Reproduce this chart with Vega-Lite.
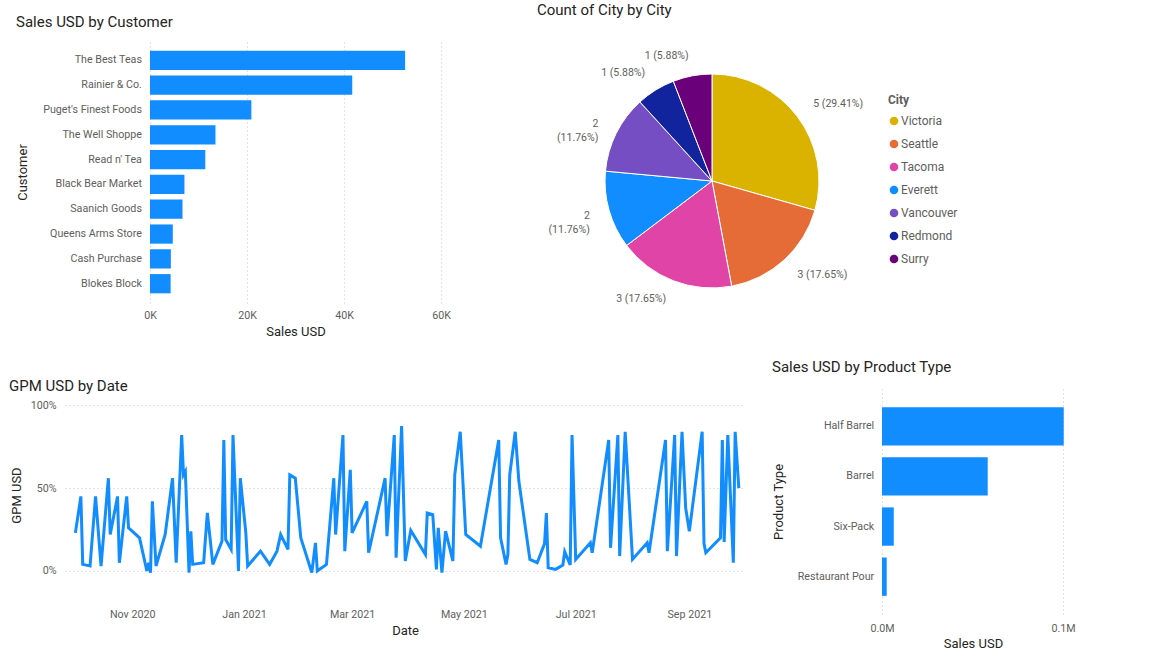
{
  "$schema": "https://vega.github.io/schema/vega-lite/v6.json",
  "padding": {"left": 0, "top": 3, "right": 0, "bottom": 0},
  "background": "#FFFFFF",
  "config": {
    "view": {"stroke": null},
    "font": "Roboto",
    "title": {"font": "Roboto", "fontSize": 15, "fontWeight": "normal", "color": "#252423", "anchor": "start", "frame": "group"},
    "axis": {
      "labelFont": "Roboto", "labelFontSize": 10.7, "labelColor": "#605E5C",
      "titleFont": "Roboto", "titleFontSize": 13, "titleFontWeight": "normal", "titleColor": "#252423",
      "domain": false, "ticks": false, "labelFlush": false,
      "gridColor": "#C8C6C4", "gridDash": [1, 3], "gridWidth": 1
    },
    "legend": {
      "orient": "right", "offset": 15, "padding": 54,
      "titleFont": "Roboto", "titleFontSize": 12, "titleFontWeight": "bold", "titleColor": "#605E5C", "titlePadding": 8,
      "labelFont": "Roboto", "labelFontSize": 12, "labelColor": "#605E5C", "labelOffset": 1,
      "symbolType": "circle", "symbolSize": 75, "symbolStrokeWidth": 0, "rowPadding": 11
    }
  },
  "datasets": {
    "customers": [
      {"customer": "The Best Teas", "sales": 52600},
      {"customer": "Rainier & Co.", "sales": 41700},
      {"customer": "Puget's Finest Foods", "sales": 20900},
      {"customer": "The Well Shoppe", "sales": 13500},
      {"customer": "Read n' Tea", "sales": 11400},
      {"customer": "Black Bear Market", "sales": 7100},
      {"customer": "Saanich Goods", "sales": 6700},
      {"customer": "Queens Arms Store", "sales": 4700},
      {"customer": "Cash Purchase", "sales": 4300},
      {"customer": "Blokes Block", "sales": 4250}
    ],
    "cities": [
      {"City": "Victoria", "count": 5, "label": "5 (29.41%)"},
      {"City": "Seattle", "count": 3, "label": "3 (17.65%)"},
      {"City": "Tacoma", "count": 3, "label": "3 (17.65%)"},
      {"City": "Everett", "count": 2, "label": ["2", "(11.76%)"]},
      {"City": "Vancouver", "count": 2, "label": ["2", "(11.76%)"]},
      {"City": "Redmond", "count": 1, "label": "1 (5.88%)"},
      {"City": "Surry", "count": 1, "label": "1 (5.88%)"}
    ],
    "products": [
      {"type": "Half Barrel", "sales": 100400},
      {"type": "Barrel", "sales": 58400},
      {"type": "Six-Pack", "sales": 6500},
      {"type": "Restaurant Pour", "sales": 2600}
    ],
    "gpm": [
      {"date": "2020-10-01", "gpm": 0.23},
      {"date": "2020-10-04", "gpm": 0.45},
      {"date": "2020-10-05", "gpm": 0.04},
      {"date": "2020-10-09", "gpm": 0.03},
      {"date": "2020-10-12", "gpm": 0.45},
      {"date": "2020-10-15", "gpm": 0.03},
      {"date": "2020-10-19", "gpm": 0.56},
      {"date": "2020-10-20", "gpm": 0.22},
      {"date": "2020-10-24", "gpm": 0.45},
      {"date": "2020-10-25", "gpm": 0.05},
      {"date": "2020-10-29", "gpm": 0.45},
      {"date": "2020-10-30", "gpm": 0.26},
      {"date": "2020-11-05", "gpm": 0.20},
      {"date": "2020-11-09", "gpm": 0.00},
      {"date": "2020-11-10", "gpm": 0.05},
      {"date": "2020-11-11", "gpm": -0.01},
      {"date": "2020-11-12", "gpm": 0.42},
      {"date": "2020-11-14", "gpm": 0.03},
      {"date": "2020-11-19", "gpm": 0.22},
      {"date": "2020-11-23", "gpm": 0.56},
      {"date": "2020-11-25", "gpm": 0.05},
      {"date": "2020-11-28", "gpm": 0.82},
      {"date": "2020-11-29", "gpm": 0.58},
      {"date": "2020-11-30", "gpm": 0.60},
      {"date": "2020-12-02", "gpm": -0.01},
      {"date": "2020-12-03", "gpm": 0.24},
      {"date": "2020-12-04", "gpm": 0.04},
      {"date": "2020-12-10", "gpm": 0.05},
      {"date": "2020-12-12", "gpm": 0.35},
      {"date": "2020-12-15", "gpm": 0.04},
      {"date": "2020-12-20", "gpm": 0.18},
      {"date": "2020-12-21", "gpm": 0.79},
      {"date": "2020-12-22", "gpm": 0.19},
      {"date": "2020-12-25", "gpm": 0.13},
      {"date": "2020-12-26", "gpm": 0.82},
      {"date": "2020-12-29", "gpm": 0.00},
      {"date": "2020-12-30", "gpm": 0.56},
      {"date": "2021-01-02", "gpm": 0.23},
      {"date": "2021-01-03", "gpm": 0.03},
      {"date": "2021-01-10", "gpm": 0.12},
      {"date": "2021-01-15", "gpm": 0.04},
      {"date": "2021-01-19", "gpm": 0.12},
      {"date": "2021-01-21", "gpm": 0.22},
      {"date": "2021-01-25", "gpm": 0.13},
      {"date": "2021-01-26", "gpm": 0.58},
      {"date": "2021-01-29", "gpm": 0.56},
      {"date": "2021-02-01", "gpm": 0.20},
      {"date": "2021-02-07", "gpm": -0.01},
      {"date": "2021-02-09", "gpm": 0.17},
      {"date": "2021-02-10", "gpm": 0.00},
      {"date": "2021-02-15", "gpm": 0.04},
      {"date": "2021-02-19", "gpm": 0.56},
      {"date": "2021-02-20", "gpm": 0.22},
      {"date": "2021-02-24", "gpm": 0.82},
      {"date": "2021-02-25", "gpm": 0.12},
      {"date": "2021-02-28", "gpm": 0.61},
      {"date": "2021-03-01", "gpm": 0.23},
      {"date": "2021-03-09", "gpm": 0.42},
      {"date": "2021-03-10", "gpm": 0.11},
      {"date": "2021-03-19", "gpm": 0.56},
      {"date": "2021-03-20", "gpm": 0.21},
      {"date": "2021-03-24", "gpm": 0.82},
      {"date": "2021-03-25", "gpm": 0.08},
      {"date": "2021-03-28", "gpm": 0.875},
      {"date": "2021-03-30", "gpm": 0.06},
      {"date": "2021-04-02", "gpm": 0.245},
      {"date": "2021-04-10", "gpm": 0.10},
      {"date": "2021-04-11", "gpm": 0.35},
      {"date": "2021-04-14", "gpm": 0.34},
      {"date": "2021-04-16", "gpm": 0.01},
      {"date": "2021-04-17", "gpm": 0.26},
      {"date": "2021-04-19", "gpm": -0.01},
      {"date": "2021-04-21", "gpm": 0.24},
      {"date": "2021-04-25", "gpm": 0.06},
      {"date": "2021-04-26", "gpm": 0.58},
      {"date": "2021-04-29", "gpm": 0.84},
      {"date": "2021-05-02", "gpm": 0.22},
      {"date": "2021-05-10", "gpm": 0.15},
      {"date": "2021-05-20", "gpm": 0.79},
      {"date": "2021-05-21", "gpm": 0.20},
      {"date": "2021-05-24", "gpm": 0.04},
      {"date": "2021-05-25", "gpm": 0.10},
      {"date": "2021-05-26", "gpm": 0.58},
      {"date": "2021-05-29", "gpm": 0.84},
      {"date": "2021-05-31", "gpm": 0.54},
      {"date": "2021-06-06", "gpm": 0.07},
      {"date": "2021-06-10", "gpm": 0.05},
      {"date": "2021-06-14", "gpm": 0.165},
      {"date": "2021-06-15", "gpm": 0.35},
      {"date": "2021-06-16", "gpm": 0.02},
      {"date": "2021-06-20", "gpm": 0.01},
      {"date": "2021-06-24", "gpm": 0.036},
      {"date": "2021-06-25", "gpm": 0.116},
      {"date": "2021-06-28", "gpm": 0.036},
      {"date": "2021-06-29", "gpm": 0.82},
      {"date": "2021-07-01", "gpm": 0.07},
      {"date": "2021-07-09", "gpm": 0.17},
      {"date": "2021-07-10", "gpm": 0.11},
      {"date": "2021-07-19", "gpm": 0.79},
      {"date": "2021-07-20", "gpm": 0.14},
      {"date": "2021-07-24", "gpm": 0.82},
      {"date": "2021-07-25", "gpm": 0.09},
      {"date": "2021-07-28", "gpm": 0.84},
      {"date": "2021-08-01", "gpm": 0.07},
      {"date": "2021-08-09", "gpm": 0.17},
      {"date": "2021-08-10", "gpm": 0.11},
      {"date": "2021-08-19", "gpm": 0.79},
      {"date": "2021-08-20", "gpm": 0.12},
      {"date": "2021-08-24", "gpm": 0.82},
      {"date": "2021-08-25", "gpm": 0.09},
      {"date": "2021-08-28", "gpm": 0.84},
      {"date": "2021-08-30", "gpm": 0.38},
      {"date": "2021-09-01", "gpm": 0.24},
      {"date": "2021-09-08", "gpm": 0.84},
      {"date": "2021-09-09", "gpm": 0.165},
      {"date": "2021-09-10", "gpm": 0.11},
      {"date": "2021-09-18", "gpm": 0.20},
      {"date": "2021-09-19", "gpm": 0.79},
      {"date": "2021-09-20", "gpm": 0.175},
      {"date": "2021-09-22", "gpm": 0.82},
      {"date": "2021-09-25", "gpm": 0.05},
      {"date": "2021-09-26", "gpm": 0.84},
      {"date": "2021-09-28", "gpm": 0.50}
    ]
  },
  "spacing": 19,
  "resolve": {"scale": {"color": "independent"}, "legend": {"color": "independent"}},
  "vconcat": [
    {
      "bounds": "flush",
      "spacing": 0,
      "resolve": {"scale": {"color": "independent"}, "legend": {"color": "independent"}},
      "hconcat": [
        {"width": 150, "height": 300, "data": {"values": []}, "mark": "point", "encoding": {}},
        {
          "width": 291, "height": 262,
          "data": {"name": "customers"},
          "title": {"text": "Sales USD by Customer", "dx": -134, "offset": 11},
          "mark": {"type": "bar", "color": "#118DFF"},
          "encoding": {
            "y": {"field": "customer", "type": "nominal", "sort": "-x",
                  "scale": {"paddingInner": 0.225, "paddingOuter": 0.39},
                  "axis": {"title": "Customer", "labelPadding": 8.6, "titlePadding": 13, "grid": false}},
            "x": {"field": "sales", "type": "quantitative",
                  "scale": {"domain": [0, 60000], "nice": false},
                  "axis": {"values": [0, 20000, 40000, 60000], "labelExpr": "datum.value / 1000 + 'K'", "title": "Sales USD", "grid": true, "labelPadding": 7.5, "titlePadding": 5}}
          }
        },
        {"width": 164, "height": 10, "data": {"values": []}, "mark": "point", "encoding": {}},
        {
          "width": 214, "height": 280,
          "data": {"name": "cities"},
          "title": {"text": "Count of City by City", "dx": -68, "offset": 23},
          "encoding": {
            "theta": {"field": "count", "type": "quantitative", "stack": true},
            "order": {"field": "count", "sort": "descending"},
            "color": {"field": "City", "type": "nominal",
                      "scale": {"domain": ["Victoria", "Seattle", "Tacoma", "Everett", "Vancouver", "Redmond", "Surry"],
                                "range": ["#D9B300", "#E66C37", "#E044A7", "#118DFF", "#744EC2", "#12239E", "#6B007B"]},
                      "legend": {"title": "City"}}
          },
          "layer": [
            {"mark": {"type": "arc", "outerRadius": 107, "stroke": "#FFFFFF", "strokeWidth": 1}},
            {"mark": {"type": "text", "radius": 127, "align": "left", "baseline": "middle", "fontSize": 10.5, "lineHeight": 14, "font": "Roboto"},
             "encoding": {
               "text": {"condition": {"test": "datum.City === 'Victoria' || datum.City === 'Seattle'", "field": "label"}, "value": ""},
               "color": {"value": "#605E5C"}
             }},
            {"mark": {"type": "text", "radius": 127, "align": "right", "baseline": "middle", "fontSize": 10.5, "lineHeight": 14, "font": "Roboto"},
             "encoding": {
               "text": {"condition": {"test": "datum.City !== 'Victoria' && datum.City !== 'Seattle'", "field": "label"}, "value": ""},
               "color": {"value": "#605E5C"}
             }}
          ]
        }
      ]
    },
    {
      "bounds": "flush",
      "spacing": 0,
      "hconcat": [
        {"width": 65, "height": 10, "data": {"values": []}, "mark": "point", "encoding": {}},
        {
          "width": 680, "height": 212,
          "data": {"name": "gpm"},
          "title": {"text": "GPM USD by Date", "dx": -56, "offset": 0, "dy": 5},
          "mark": {"type": "line", "color": "#118DFF", "strokeWidth": 3},
          "encoding": {
            "x": {"field": "date", "type": "temporal",
                  "scale": {"type": "utc", "nice": false,
                            "domain": [{"year": 2020, "month": 9, "date": 25, "hours": 8, "utc": true}, {"year": 2021, "month": 10, "date": 1, "hours": 9, "utc": true}]},
                  "axis": {"values": [
                              {"year": 2020, "month": 11, "date": 1, "utc": true},
                              {"year": 2021, "month": 1, "date": 1, "utc": true},
                              {"year": 2021, "month": 3, "date": 1, "utc": true},
                              {"year": 2021, "month": 5, "date": 1, "utc": true},
                              {"year": 2021, "month": 7, "date": 1, "utc": true},
                              {"year": 2021, "month": 9, "date": 1, "utc": true}],
                           "format": "%b %Y", "title": "Date", "grid": false, "labelPadding": 8, "titlePadding": 6}},
            "y": {"field": "gpm", "type": "quantitative",
                  "scale": {"domain": [-0.181, 1.098], "nice": false, "zero": false},
                  "axis": {"values": [0, 0.5, 1], "format": ".0%", "title": "GPM USD", "grid": true, "labelPadding": 9, "titlePadding": 7}}
          }
        },
        {"width": 137, "height": 10, "data": {"values": []}, "mark": "point", "encoding": {}},
        {
          "width": 182, "height": 225,
          "data": {"name": "products"},
          "title": {"text": "Sales USD by Product Type", "dx": -110, "offset": 14},
          "mark": {"type": "bar", "color": "#118DFF"},
          "encoding": {
            "y": {"field": "type", "type": "nominal", "sort": "-x",
                  "scale": {"paddingInner": 0.235, "paddingOuter": 0.363},
                  "axis": {"title": "Product Type", "labelPadding": 8.3, "titlePadding": 12, "grid": false}},
            "x": {"field": "sales", "type": "quantitative",
                  "scale": {"domain": [0, 100550], "nice": false},
                  "axis": {"values": [0, 100000], "labelExpr": "format(datum.value / 1000000, '.1f') + 'M'", "title": "Sales USD", "grid": true, "labelPadding": 9, "titlePadding": 5}}
          }
        }
      ]
    }
  ]
}
